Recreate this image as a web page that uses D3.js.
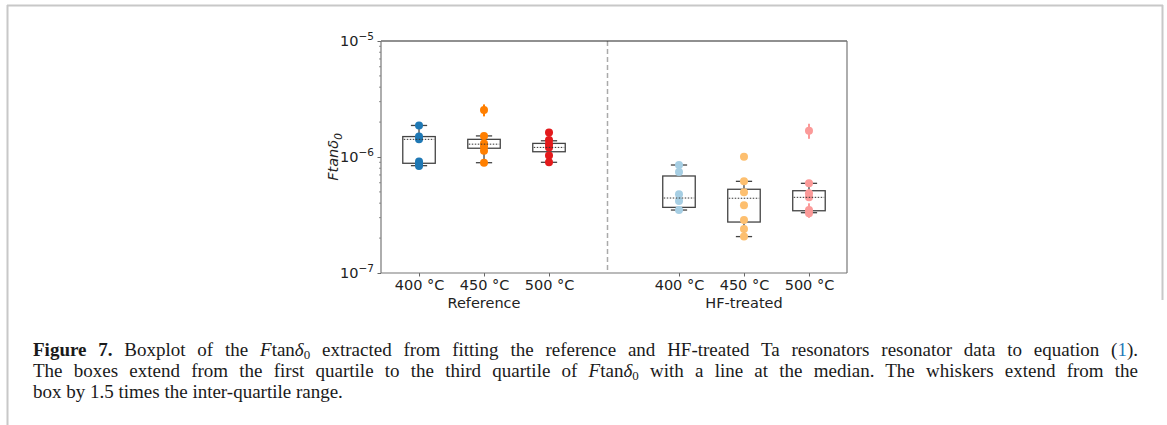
<!DOCTYPE html>
<html><head><meta charset="utf-8">
<script src="https://cdn.jsdelivr.net/npm/d3@7"></script>
<style>
body{margin:0;background:#fff;}
svg{display:block;}
</style></head>
<body>
<svg id="chart" width="1167" height="425"></svg>
<script>
// ---- data (values in units of 1e-6) ----
const categories = ["400 °C","450 °C","500 °C","400 °C","450 °C","500 °C"];
const positions  = [0,1,2,4,5,6];
const groups     = ["Reference","HF-treated"];
const groupCenters = [1,5];
const yTicks = [1e-7,1e-6,1e-5];

const ptsRef400 = [1.87,1.50,1.42,0.915,0.871,0.837];
const ptsRef450 = [2.54,1.52,1.31,1.23,1.13,0.893];
const ptsRef500 = [1.63,1.40,1.29,1.21,1.03,0.90];
const ptsHF400  = [0.853,0.742,0.477,0.418,0.349];
const ptsHF450  = [1.006,0.617,0.496,0.383,0.286,0.239,0.206];
const ptsHF500  = [1.685,0.593,0.486,0.449,0.349,0.327];

const errRef400 = [0,0.08,0,0.04,0,0];
const errRef450 = [0.30,0,0,0,0,0];
const errRef500 = [0,0,0,0,0,0];
const errHF400  = [0,0,0,0,0];
const errHF450  = [0,0,0,0,0,0,0];
const errHF500  = [0.25,0,0.04,0,0.05,0];

const q1       = [0.883,1.19,1.11,0.368,0.275,0.344];
const medians  = [1.42,1.29,1.21,0.443,0.441,0.449];
const q3       = [1.50,1.42,1.31,0.686,0.527,0.512];
const whiskLo  = [0.842,0.893,0.90,0.349,0.206,0.331];
const whiskHi  = [1.87,1.52,1.38,0.853,0.617,0.593];

const points = [ptsRef400,ptsRef450,ptsRef500,ptsHF400,ptsHF450,ptsHF500];
const errors = [errRef400,errRef450,errRef500,errHF400,errHF450,errHF500];
const colors = ["#1f78b4","#ff7f00","#e31a1c","#a6cee3","#fdbf6f","#fb9a99"];
const U = 1e-6;

// ---- layout ----
const svg = d3.select("#chart");
const L = 381, R = 847, T = 41, B = 273;
const x = d3.scaleLinear().domain([-0.585, 6.585]).range([L, R]);
const y = d3.scaleLog().domain([1e-7, 1e-5]).range([B, T]);

// page frame
svg.append("line").attr("x1",7.5).attr("x2",7.5).attr("y1",5).attr("y2",425).attr("stroke","#c8c8c8").attr("stroke-width",2);
svg.append("line").attr("x1",7).attr("x2",1163).attr("y1",5.5).attr("y2",5.5).attr("stroke","#c8c8c8").attr("stroke-width",2);
svg.append("line").attr("x1",1162.5).attr("x2",1162.5).attr("y1",5).attr("y2",300).attr("stroke","#c8c8c8").attr("stroke-width",2);

// y axis
const yAxis = d3.axisLeft(y).tickValues(yTicks).tickSize(3.5).tickPadding(3).tickFormat(()=> "");
const gy = svg.append("g").attr("transform",`translate(${L},0)`).call(yAxis);
gy.select(".domain").remove();
gy.selectAll(".tick line").attr("stroke","#666").attr("stroke-width",1);
const minor = [];
[1e-7,1e-6].forEach(d=>{for(let k=2;k<10;k++) minor.push(d*k);});
svg.append("g").selectAll("line").data(minor).join("line")
  .attr("x1",L-2).attr("x2",L).attr("y1",d=>y(d)).attr("y2",d=>y(d))
  .attr("stroke","#777").attr("stroke-width",0.8);
const exps = yTicks.map(d=>Math.round(Math.log10(d)));
const ylab = svg.append("g").attr("font-family","DejaVu Sans").attr("fill","#222");
yTicks.forEach((d,i)=>{
  const t = ylab.append("text").attr("x",L-7).attr("y",y(d)+5).attr("text-anchor","end").attr("font-size",14.5);
  t.append("tspan").text("10");
  t.append("tspan").attr("dy",-6).attr("font-size",10.5).text("\u2212"+Math.abs(exps[i]));
});

// x axis
const gx = svg.append("g").attr("transform",`translate(0,${B})`)
  .call(d3.axisBottom(x).tickValues(positions).tickSize(3.5).tickPadding(3).tickFormat((d,i)=>categories[i]));
gx.select(".domain").remove();
gx.selectAll(".tick line").attr("stroke","#666");
gx.selectAll(".tick text").attr("font-family","DejaVu Sans").attr("font-size",14.5).attr("fill","#222").attr("dy","0.75em");
svg.append("g").selectAll("text").data(groups).join("text")
  .attr("x",(d,i)=>x(groupCenters[i])).attr("y",308).attr("text-anchor","middle")
  .attr("font-family","DejaVu Sans").attr("font-size",14.5).attr("fill","#222").text(d=>d);

// y label
const yl = svg.append("text").attr("transform",`translate(338,157) rotate(-90)`).attr("text-anchor","middle")
  .attr("font-family","DejaVu Sans").attr("font-size",14.5).attr("font-style","italic").attr("fill","#222");
yl.append("tspan").text("Ftan\u03b4");
yl.append("tspan").attr("dy",4).attr("font-size",10.5).text("0");

// separator
svg.append("line").attr("x1",x(2.9)).attr("x2",x(2.9)).attr("y1",T).attr("y2",B)
  .attr("stroke","#aaa").attr("stroke-width",1.5).attr("stroke-dasharray","5,3");

// boxes
const bw = 0.5, cw = 0.25;
const boxG = svg.append("g").attr("stroke","#444").attr("stroke-width",1.3).attr("fill","none");
positions.forEach((p,i)=>{
  boxG.append("line").attr("x1",x(p)).attr("x2",x(p)).attr("y1",y(q3[i]*U)).attr("y2",y(whiskHi[i]*U));
  boxG.append("line").attr("x1",x(p)).attr("x2",x(p)).attr("y1",y(q1[i]*U)).attr("y2",y(whiskLo[i]*U));
  boxG.append("line").attr("x1",x(p-cw/2)).attr("x2",x(p+cw/2)).attr("y1",y(whiskHi[i]*U)).attr("y2",y(whiskHi[i]*U));
  boxG.append("line").attr("x1",x(p-cw/2)).attr("x2",x(p+cw/2)).attr("y1",y(whiskLo[i]*U)).attr("y2",y(whiskLo[i]*U));
  boxG.append("rect").attr("x",x(p-bw/2)).attr("width",x(p+bw/2)-x(p-bw/2))
    .attr("y",y(q3[i]*U)).attr("height",y(q1[i]*U)-y(q3[i]*U)).attr("fill","#fff");
});
positions.forEach((p,i)=>{
  const g = svg.append("g");
  points[i].forEach((v,j)=>{
    const e = errors[i][j];
    if(e>0){
      g.append("line").attr("x1",x(p)).attr("x2",x(p)).attr("y1",y((v+e)*U)).attr("y2",y((v-e)*U))
        .attr("stroke",colors[i]).attr("stroke-width",2);
    }
  });
  g.selectAll("circle").data(points[i]).join("circle")
    .attr("cx",x(p)).attr("cy",d=>y(d*U)).attr("r",4).attr("fill",colors[i]);
});
svg.append("g").selectAll("line").data(positions).join("line")
  .attr("x1",d=>x(d-bw/2)+1).attr("x2",d=>x(d+bw/2)-1)
  .attr("y1",(d,i)=>y(medians[i]*U)).attr("y2",(d,i)=>y(medians[i]*U))
  .attr("stroke","#333").attr("stroke-width",1).attr("stroke-dasharray","1.5,1.5");

// spines
svg.append("line").attr("x1",L).attr("x2",R).attr("y1",T).attr("y2",T).attr("stroke","#222").attr("stroke-width",1.2);
svg.append("line").attr("x1",L).attr("x2",L).attr("y1",T).attr("y2",B).attr("stroke","#777").attr("stroke-width",1.2);
svg.append("line").attr("x1",R).attr("x2",R).attr("y1",T).attr("y2",B).attr("stroke","#777").attr("stroke-width",1.2);
svg.append("line").attr("x1",L).attr("x2",R).attr("y1",B).attr("y2",B).attr("stroke","#777").attr("stroke-width",1.2);

// caption (justified lines 1-2)
const CAPX = 33, CAPW = 1105;
const cap = svg.append("g").attr("font-family","Liberation Serif").attr("font-size",19).attr("fill","#1a1a1a");
function ftan(t){
  t.append("tspan").attr("font-style","italic").text("F");
  t.append("tspan").text("tan");
  t.append("tspan").attr("font-style","italic").text("\u03b4");
  t.append("tspan").attr("dy",3).attr("font-size",13).text("0");
  t.append("tspan").attr("dy",-3).text(" ");
}
function justify(t){
  const node = t.node();
  const w = node.getComputedTextLength();
  const spaces = (node.textContent.match(/ /g)||[]).length;
  t.style("word-spacing", ((CAPW - w)/spaces)+"px");
}
const l1 = cap.append("text").attr("x",CAPX).attr("y",356);
l1.append("tspan").attr("font-weight","bold").text("Figure 7.");
l1.append("tspan").text(" Boxplot of the ");
ftan(l1);
l1.append("tspan").text("extracted from fitting the reference and HF-treated Ta resonators resonator data to equation (");
l1.append("tspan").attr("fill","#1f7ab8").text("1");
l1.append("tspan").text(").");
justify(l1);
const l2 = cap.append("text").attr("x",CAPX).attr("y",377);
l2.append("tspan").text("The boxes extend from the first quartile to the third quartile of ");
ftan(l2);
l2.append("tspan").text("with a line at the median. The whiskers extend from the");
justify(l2);
cap.append("text").attr("x",CAPX).attr("y",397.5).text("box by 1.5 times the inter-quartile range.");
</script>
</body></html>
